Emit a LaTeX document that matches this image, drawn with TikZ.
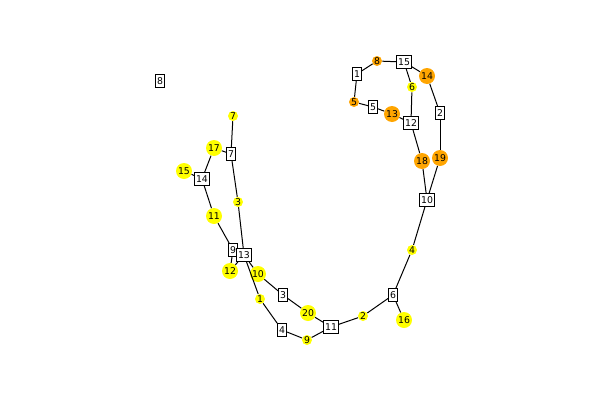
\documentclass[tikz,border=0pt]{standalone}
\usepackage{fontspec}
\setmainfont{DejaVu Sans}
\begin{document}
\begin{tikzpicture}[x=0.75pt,y=-0.75pt,
  sq/.style={draw=black,fill=white,line width=0.5pt,inner sep=1.2pt,minimum height=10pt,font=\fontsize{7}{8}\selectfont},
  sm/.style={circle,inner sep=0pt,minimum size=7.5pt,font=\fontsize{7}{8}\selectfont},
  lg/.style={circle,inner sep=0pt,minimum size=12pt,font=\fontsize{7}{8}\selectfont},
  yel/.style={fill={rgb,255:red,255;green,255;blue,0}},
  org/.style={fill={rgb,255:red,255;green,165;blue,0}},
  ed/.style={draw=black,line width=0.75pt}]
\useasboundingbox (-1,-1) rectangle (599,399);
% circles
\node[sm,org] (c8) at (376,60) {8};
\node[lg,org] (c14) at (426,75) {14};
\node[sm,yel] (c6) at (411,86) {6};
\node[sm,org] (c5) at (353,101) {5};
\node[lg,org] (c13) at (391,113) {13};
\node[lg,org] (c18) at (421,160) {18};
\node[lg,org] (c19) at (439,157) {19};
\node[sm,yel] (c7) at (232,115) {7};
\node[lg,yel] (c17) at (213,147) {17};
\node[lg,yel] (c15) at (183,170) {15};
\node[sm,yel] (c3) at (237,201) {3};
\node[lg,yel] (c11) at (213,215) {11};
\node[lg,yel] (c12) at (229,270) {12};
\node[lg,yel] (c10) at (257,273) {10};
\node[sm,yel] (c1) at (259,298) {1};
\node[lg,yel] (c20) at (307,312) {20};
\node[sm,yel] (c9) at (306,339) {9};
\node[sm,yel] (c2) at (362,315) {2};
\node[lg,yel] (c16) at (403,319) {16};
\node[sm,yel] (c4) at (411,249) {4};
% squares
\node[sq] (s1) at (356,73) {1};
\node[sq] (s15) at (403,61) {15};
\node[sq] (s5) at (372,106) {5};
\node[sq] (s12) at (410,122) {12};
\node[sq] (s2) at (439,112) {2};
\node[sq] (s10) at (426,199) {10};
\node[sq] (s7) at (230,153) {7};
\node[sq] (s14) at (201,178) {14};
\node[sq] (s9) at (232,249) {9};
\node[sq] (s13) at (243,254) {13};
\node[sq] (s3) at (282,294) {3};
\node[sq] (s4) at (281,329) {4};
\node[sq] (s11) at (330,326) {11};
\node[sq] (s6) at (392,294) {6};
\node[sq] (s8) at (159,80) {8};
% edges
\foreach \a/\b in {s1/c8,c8/s15,s15/c14,s15/c6,c6/s12,s1/c5,c5/s5,s5/c13,c13/s12,
  c14/s2,s2/c19,s12/c18,c18/s10,c19/s10,s10/c4,c4/s6,s6/c16,s6/c2,c2/s11,
  s11/c20,s11/c9,c20/s3,s3/c10,c9/s4,s4/c1,c1/s13,c10/s13,c3/s13,c3/s7,
  s7/c7,s7/c17,c17/s14,s14/c15,s14/c11,c11/s9,s9/c12,c12/s13}
  \draw[ed] (\a) -- (\b);
\end{tikzpicture}
\end{document}
